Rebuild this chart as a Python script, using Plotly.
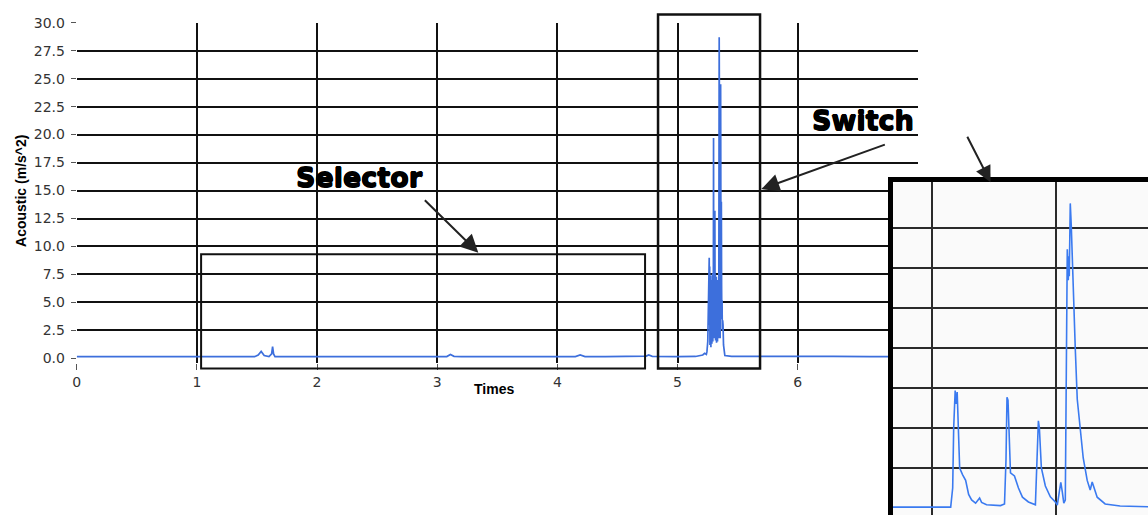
import plotly.graph_objects as go

# ---- main acoustic trace (time in s, acceleration in m/s^2) ----
main_time = [
    0.00, 0.40, 0.80, 1.20, 1.48, 1.51, 1.535, 1.56, 1.60, 1.622, 1.630, 1.638, 1.650,
    1.70, 2.00, 2.40, 2.80, 3.08, 3.11, 3.14, 3.20, 3.60, 4.00, 4.15, 4.19, 4.23,
    4.40, 4.70, 4.74, 4.76, 4.79, 5.00, 5.15, 5.21, 5.226, 5.240,
    5.245, 5.252, 5.256, 5.259, 5.262, 5.264, 5.266, 5.268, 5.270, 5.272, 5.274,
    5.276, 5.278, 5.280, 5.282, 5.284, 5.286, 5.288, 5.290, 5.292, 5.294, 5.296,
    5.298, 5.300, 5.302, 5.304, 5.306, 5.309, 5.311, 5.313, 5.315, 5.317, 5.319,
    5.321, 5.323, 5.325, 5.327, 5.329, 5.331, 5.333, 5.335, 5.337, 5.339, 5.341,
    5.344, 5.347, 5.349, 5.351, 5.353, 5.355, 5.357, 5.359, 5.361, 5.363, 5.365,
    5.367, 5.369, 5.371, 5.373, 5.376, 5.379, 5.383, 5.388, 5.394,
    5.45, 5.70, 6.00, 6.30, 6.60, 7.00,
]
main_accel = [
    0.15, 0.15, 0.16, 0.15, 0.15, 0.30, 0.62, 0.25, 0.16, 0.40, 1.05, 0.40, 0.16,
    0.15, 0.16, 0.15, 0.15, 0.16, 0.35, 0.18, 0.15, 0.15, 0.15, 0.16, 0.30, 0.16,
    0.15, 0.15, 0.20, 0.30, 0.18, 0.16, 0.17, 0.30, 0.45, 0.35,
    0.60, 1.50, 4.50, 7.50, 8.60, 9.00, 3.00, 8.20, 1.20, 6.50, 2.00,
    7.40, 1.00, 5.80, 2.50, 7.00, 1.30, 6.00, 2.20, 7.60, 1.50, 6.30,
    2.80, 19.70, 2.00, 7.20, 1.80, 12.00, 13.20, 3.00, 7.50, 1.60, 6.80,
    2.40, 7.30, 1.40, 6.20, 2.00, 7.00, 1.50, 5.50, 2.30, 6.50, 1.80,
    8.00, 28.70, 6.00, 2.20, 7.00, 1.80, 14.00, 24.50, 13.00, 8.00, 14.00,
    6.50, 3.50, 5.20, 2.50, 3.40, 3.00, 1.20, 0.50, 0.25,
    0.18, 0.16, 0.16, 0.17, 0.16, 0.16,
]

y_tick_vals = [0.0, 2.5, 5.0, 7.5, 10.0, 12.5, 15.0, 17.5, 20.0, 22.5, 25.0, 27.5, 30.0]
y_tick_text = ["0.0", "2.5", "5.0", "7.5", "10.0", "12.5", "15.0", "17.5",
               "20.0", "22.5", "25.0", "27.5", "30.0"]
y_grid_vals = [2.5, 5.0, 7.5, 10.0, 12.5, 15.0, 17.5, 20.0, 22.5, 25.0, 27.5]
x_tick_vals = [0, 1, 2, 3, 4, 5, 6]
x_tick_text = ["0", "1", "2", "3", "4", "5", "6"]
x_grid_vals = [1, 2, 3, 4, 5, 6]

# ---- zoomed view of the switch transient (inset, ms / relative level) ----
inset_time_ms = [
    6.88, 11.52, 11.68, 11.76, 11.88, 11.96, 12.04, 12.16, 12.24, 12.48, 12.72,
    12.96, 13.20, 13.52, 13.84, 14.00, 14.40, 15.52, 15.84, 15.96, 16.04, 16.12,
    16.24, 16.32, 16.64, 16.96, 17.28, 17.76, 18.32, 18.44, 18.56, 18.64, 18.72,
    18.80, 19.12, 19.52, 19.92, 20.08, 20.24, 20.36, 20.48, 20.60, 20.72, 20.80,
    20.88, 20.96, 21.00, 21.04, 21.12, 21.20, 21.28, 21.36, 21.52, 21.68, 21.92,
    22.16, 22.48, 22.72, 22.88, 23.04, 23.28, 23.92, 25.12, 27.36,
]
inset_level = [
    0.02, 0.02, 0.50, 2.00, 2.94, 2.60, 2.90, 1.60, 1.00, 0.83, 0.69,
    0.34, 0.20, 0.12, 0.25, 0.14, 0.08, 0.06, 0.10, 1.20, 2.77, 2.70,
    1.60, 0.88, 0.80, 0.50, 0.27, 0.15, 0.08, 1.20, 2.18, 2.00, 1.50,
    1.00, 0.55, 0.28, 0.15, 0.07, 0.40, 0.64, 0.40, 0.12, 0.20, 3.50,
    6.47, 5.70, 6.30, 5.80, 7.62, 7.06, 6.20, 5.40, 4.00, 2.72, 1.91,
    1.25, 0.69, 0.45, 0.65, 0.50, 0.27, 0.10, 0.05, 0.03,
]
inset_x_grid = [10, 20]
inset_y_grid = [1, 2, 3, 4, 5, 6, 7]

# ---- geometry ----
W, H = 1148, 518
X_RANGE = [0, 7]
Y_RANGE = [-0.44, 30]
X_DOM = [73 / W, 917 / W]
Y_DOM = [(H - 363) / H, (H - 15) / H]
INSET_X_RANGE = [6.88, 27.36]
INSET_Y_RANGE = [-0.176, 8.15]
INSET_X_DOM = [892 / W, 1.0]
INSET_Y_DOM = [0.0, (H - 178) / H]

BLUE = "#3d6fdc"
INK = "#111111"
TICK_FONT = dict(family="DejaVu Sans", size=14, color="#333333")


def paper_x(t):
    f = (t - X_RANGE[0]) / (X_RANGE[1] - X_RANGE[0])
    return X_DOM[0] + f * (X_DOM[1] - X_DOM[0])


def paper_y(v):
    f = (v - Y_RANGE[0]) / (Y_RANGE[1] - Y_RANGE[0])
    return Y_DOM[0] + f * (Y_DOM[1] - Y_DOM[0])


fig = go.Figure()

fig.add_trace(go.Scatter(
    x=main_time, y=main_accel, mode="lines",
    line=dict(color=BLUE, width=1.7), xaxis="x", yaxis="y",
    showlegend=False, hoverinfo="x+y",
))
# carrier trace for the grid-only overlay axes
fig.add_trace(go.Scatter(x=[], y=[], xaxis="x3", yaxis="y3", showlegend=False))

fig.add_trace(go.Scatter(
    x=inset_time_ms, y=inset_level, mode="lines",
    line=dict(color="#3a7af0", width=1.6), xaxis="x2", yaxis="y2",
    showlegend=False,
))

fig.update_layout(
    width=W, height=H,
    margin=dict(l=0, r=0, t=0, b=0),
    paper_bgcolor="white", plot_bgcolor="white",
    xaxis=dict(
        domain=X_DOM, range=X_RANGE, anchor="y",
        tickmode="array", tickvals=x_tick_vals, ticktext=x_tick_text,
        ticks="outside", ticklen=6, tickwidth=1, tickcolor="#555555",
        tickfont=TICK_FONT, showgrid=False, zeroline=False, showline=False,
    ),
    yaxis=dict(
        domain=Y_DOM, range=Y_RANGE, anchor="x",
        tickmode="array", tickvals=y_tick_vals, ticktext=y_tick_text,
        ticks="outside", ticklen=5, tickwidth=1, tickcolor="#555555",
        tickfont=TICK_FONT, ticklabelstandoff=3,
        showgrid=False, zeroline=False, showline=False,
    ),
    xaxis3=dict(
        overlaying="x", range=X_RANGE, anchor="y3",
        tickmode="array", tickvals=x_grid_vals, showticklabels=False, ticks="",
        showgrid=True, gridcolor=INK, gridwidth=1.6, zeroline=False,
    ),
    yaxis3=dict(
        overlaying="y", range=Y_RANGE, anchor="x3",
        tickmode="array", tickvals=y_grid_vals, showticklabels=False, ticks="",
        showgrid=True, gridcolor=INK, gridwidth=2, zeroline=False,
    ),
    xaxis2=dict(
        domain=INSET_X_DOM, range=INSET_X_RANGE, anchor="y2", side="top",
        tickmode="array", tickvals=inset_x_grid, showticklabels=False, ticks="",
        showgrid=True, gridcolor="#2a2a2a", gridwidth=1.5, zeroline=False,
        showline=True, linecolor="black", linewidth=5, mirror=False,
    ),
    yaxis2=dict(
        domain=INSET_Y_DOM, range=INSET_Y_RANGE, anchor="x2",
        tickmode="array", tickvals=inset_y_grid, showticklabels=False, ticks="",
        showgrid=True, gridcolor="#2a2a2a", gridwidth=1.5, zeroline=False,
        showline=True, linecolor="black", linewidth=5, mirror=False,
    ),
)

# light panel behind the inset, covering the main chart underneath
fig.add_shape(
    type="rect", xref="x2", yref="y2", layer="below",
    x0=INSET_X_RANGE[0], x1=INSET_X_RANGE[1],
    y0=INSET_Y_RANGE[0], y1=INSET_Y_RANGE[1],
    fillcolor="#fafafa", line=dict(width=0),
)

# highlight frames around the selector and switch events
SELECTOR_BOX = dict(t0=1.035, t1=4.73, v0=-0.9, v1=9.3)
SWITCH_BOX = dict(t0=4.838, t1=5.687, v0=-0.9, v1=30.73)
for box, lw in ((SELECTOR_BOX, 2), (SWITCH_BOX, 2.5)):
    fig.add_shape(
        type="rect", xref="paper", yref="paper", layer="above",
        x0=paper_x(box["t0"]), x1=paper_x(box["t1"]),
        y0=paper_y(box["v0"]), y1=paper_y(box["v1"]),
        line=dict(color=INK, width=lw), fillcolor="rgba(0,0,0,0)",
    )


def label(text, cx, cy, font, angle=0):
    fig.add_annotation(
        text=text, x=cx / W, y=(H - cy) / H, xref="paper", yref="paper",
        xanchor="center", yanchor="middle", showarrow=False,
        textangle=angle, font=font,
    )


# heavy callout lettering: bold face thickened with a tight outline shadow
LABEL_FONT = dict(
    family="DejaVu Sans", size=27, color="black",
    shadow="0.6px 0 0 black, -0.6px 0 0 black, 0 0.6px 0 black, 0 -0.6px 0 black",
)
label("<b>Selector</b>", 357, 173, LABEL_FONT)
label("<b>Switch</b>", 862, 115, LABEL_FONT)

# pointer arrows (head position, tail offset in px)
for hx, hy, ax, ay, size in ((476, 250, -55, -54, 1.8),
                             (760, 185, 125, -45, 1.8),
                             (990, 178, -24, -47, 1.6)):
    fig.add_annotation(
        text="", x=hx / W, y=(H - hy) / H, xref="paper", yref="paper",
        showarrow=True, ax=ax, ay=ay, arrowhead=2, arrowsize=size,
        arrowwidth=2, arrowcolor="#222222", standoff=0,
    )

# axis titles
TITLE_FONT = dict(family="Liberation Sans", size=14, color="black")
label("<b>Times</b>", 492, 389, TITLE_FONT)
label("<b>Acoustic (m/s^2)</b>", 17, 187, TITLE_FONT, angle=-90)

fig.write_html("out.html")
